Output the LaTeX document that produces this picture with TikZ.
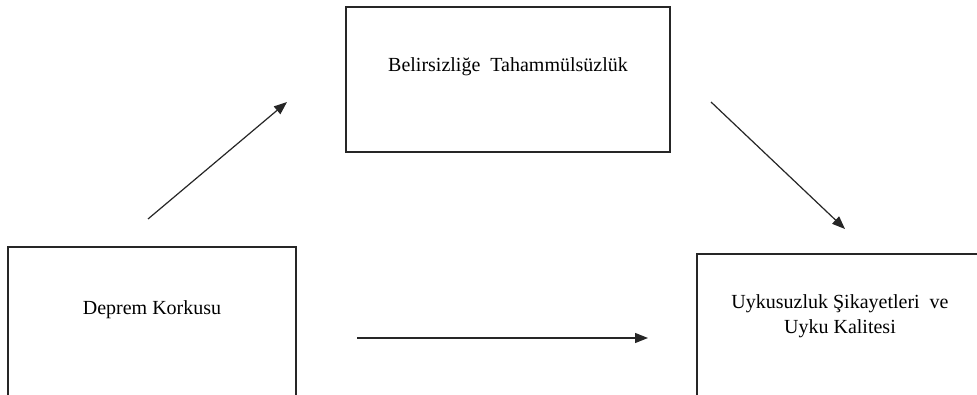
\documentclass[tikz,border=0pt]{standalone}
\usepackage{fontspec}
\setmainfont{Liberation Serif}
\usetikzlibrary{arrows.meta}
\tikzset{
  boxline/.style={draw=black!85, line width=1.4pt},
  lbl/.style={font=\fontsize{20}{25}\selectfont, align=center, inner sep=0pt, text=black},
  conn/.style={draw=black!85, line width=1.2pt, -{Triangle[length=13pt,width=10pt]}}
}
\begin{document}
\begin{tikzpicture}[x=1pt,y=1pt]
\useasboundingbox (0,0) rectangle (977,394);
\clip (0,0) rectangle (977,394);
\fill[white] (0,0) rectangle (977,394);
% boxes
\draw[boxline] (346,387) rectangle (670,242);
\draw[boxline] (8,147) rectangle (296,-20);
\draw[boxline] (697,140) rectangle (990,-20);
% labels
\node[lbl] (bel) at (508,327) {Belirsizliğe\ \ Tahammülsüzlük};
\node[lbl] (dep) at (152,84) {Deprem Korkusu};
\node[lbl] (uyk) at (840,78) {Uykusuzluk Şikayetleri\ \ ve\\Uyku Kalitesi};
% connector ends
\coordinate (a1s) at (148,175);
\coordinate (a1e) at (287,292);
\coordinate (a2s) at (711,292);
\coordinate (a2e) at (845,165);
\coordinate (a3s) at (357,56);
\coordinate (a3e) at (648,56);
\draw[conn] (a1s) -- (a1e);
\draw[conn] (a2s) -- (a2e);
\draw[conn] (a3s) -- (a3e);
\end{tikzpicture}
\end{document}
